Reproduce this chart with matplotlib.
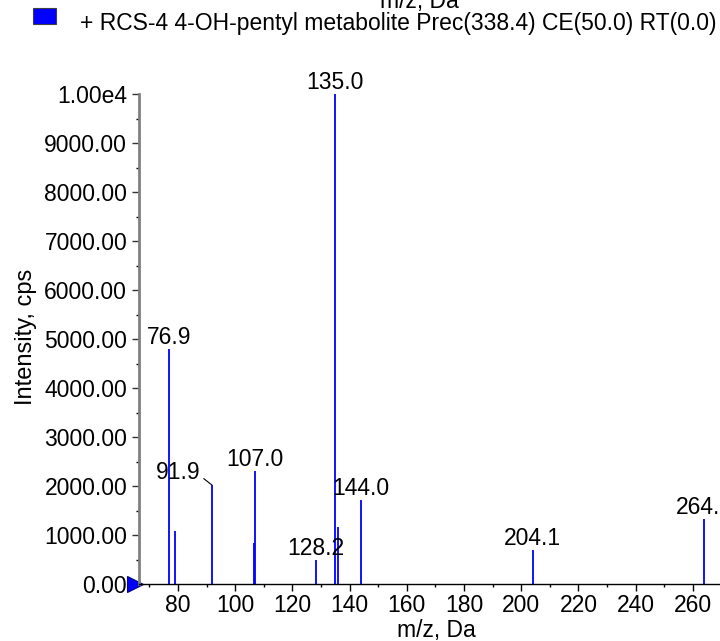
import numpy as np
import matplotlib
matplotlib.use("Agg")
import matplotlib.pyplot as plt
from matplotlib.patches import Rectangle
from matplotlib.ticker import FuncFormatter, MultipleLocator
from matplotlib.transforms import ScaledTranslation

plt.rcParams['font.family'] = ['Liberation Sans', 'DejaVu Sans']

# spectrum peaks (m/z, intensity)
mz = [76.9, 79.0, 91.9, 106.5, 107.0, 128.2, 135.0, 135.9, 144.0, 204.1, 264.0]
intensity = [4800, 1090, 2020, 830, 2310, 490, 10000, 1170, 1710, 690, 1330]

# labelled peaks
label_mz = [76.9, 107.0, 128.2, 135.0, 144.0, 204.1, 264.0]
label_int = [4800, 2310, 490, 10000, 1710, 690, 1330]
label_txt = ["76.9", "107.0", "128.2", "135.0", "144.0", "204.1", "264.0"]

legend_txt = "+ RCS-4 4-OH-pentyl metabolite Prec(338.4) CE(50.0) RT(0.0)"

FS = 16.5
W, H = 720, 641
fig = plt.figure(figsize=(W / 100, H / 100), dpi=100)
ax = fig.add_axes([139 / W, 57 / H, 595 / W, 490 / H])

ax.vlines(mz, 0, intensity, color='#0000ff', lw=1.3)

for x, y, t in zip(label_mz, label_int, label_txt):
    ax.annotate(t, (x, y), xytext=(0, 3.5), textcoords='offset points',
                ha='center', va='baseline', fontsize=FS, annotation_clip=False)

# 91.9 label sits to the left with a leader line
ax.annotate("91.9", (91.9, 2020), xytext=(-24, 4), textcoords='offset points',
            ha='center', va='baseline', fontsize=FS,
            arrowprops=dict(arrowstyle='-', color='black', lw=0.8,
                            shrinkA=0, shrinkB=0, relpos=(1.0, 0.35)))

ax.set_xlim(66.4, 274.4)
ax.set_ylim(0, 10000)

ax.xaxis.set_major_locator(MultipleLocator(20))
ax.xaxis.set_minor_locator(MultipleLocator(10))
ax.yaxis.set_major_locator(MultipleLocator(1000))
ax.yaxis.set_minor_locator(MultipleLocator(500))


def yfmt(v, pos):
    if v >= 10000:
        return "1.00e4"
    return "%.2f" % v


ax.yaxis.set_major_formatter(FuncFormatter(yfmt))
ax.set_xticks([80, 100, 120, 140, 160, 180, 200, 220, 240, 260])

ax.tick_params(axis='both', which='major', labelsize=FS, length=5, width=1)
ax.tick_params(axis='both', which='minor', length=2.5, width=1)
ax.tick_params(axis='x', pad=2)
ax.tick_params(axis='y', pad=3.5, color='#333333')

for s in ['top', 'right']:
    ax.spines[s].set_visible(False)
ax.spines['left'].set_color('#808080')
ax.spines['left'].set_linewidth(2)
ax.spines['bottom'].set_color('black')
ax.spines['bottom'].set_linewidth(1)

ax.set_xlabel("m/z, Da", fontsize=FS, labelpad=2)
ax.set_ylabel("Intensity, cps", fontsize=17)
ax.yaxis.set_label_coords(-0.172, 0.505)

# marker at the zero line
mk, = ax.plot([66.4], [0], marker='>', markersize=12, color='#0000ff',
              markeredgecolor='#000080', markeredgewidth=0.8, clip_on=False)
mk.set_transform(ax.transData + ScaledTranslation(-4.5 / 100, 0, fig.dpi_scale_trans))

# legend box and text at top
fig.patches.append(Rectangle((33 / W, 1 - 24 / H), 23 / W, 16 / H, transform=fig.transFigure,
                             facecolor='#0000ff', edgecolor='#404040', lw=0.8))
fig.text(80 / W, 1 - 30 / H, legend_txt, fontsize=FS, va='baseline', ha='left')
fig.text(419 / W, 1 - 8 / H, "m/z, Da", fontsize=FS, va='baseline', ha='center')

fig.savefig("out.png", dpi=100)
